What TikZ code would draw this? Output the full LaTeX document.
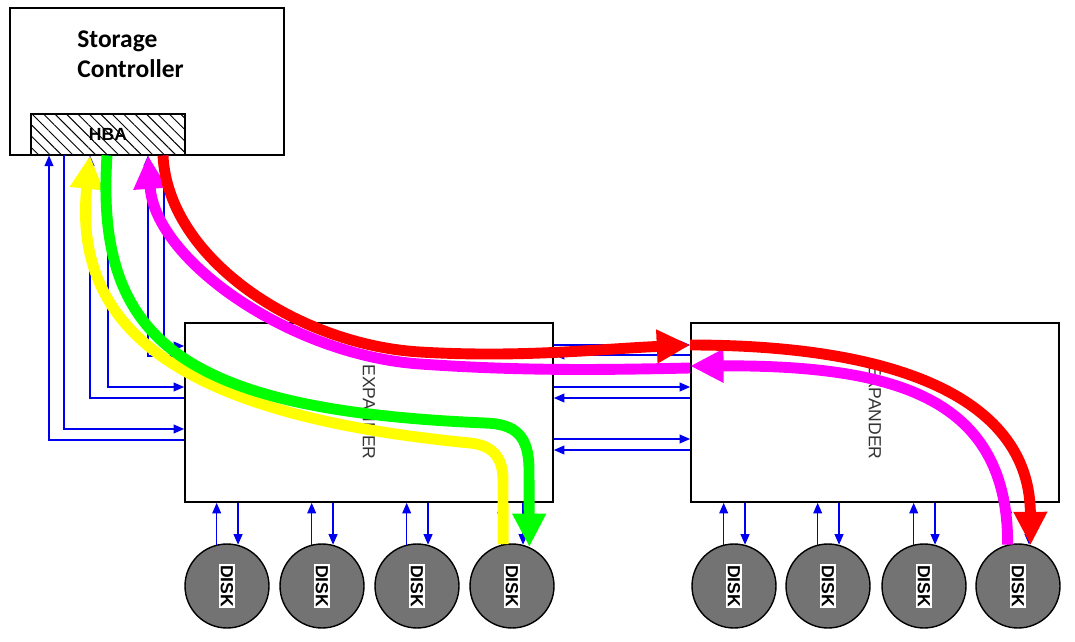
\documentclass[tikz,border=0pt]{standalone}
\usepackage{fontspec}
\setmainfont{Liberation Sans}
\newfontfamily\calibri{Carlito}
\usetikzlibrary{arrows.meta,patterns.meta}
\definecolor{pathyellow}{RGB}{255,255,0}
\definecolor{pathgreen}{RGB}{0,255,0}
\definecolor{pathred}{RGB}{255,0,0}
\definecolor{pathmagenta}{RGB}{255,0,255}
\definecolor{wireblue}{RGB}{0,0,240}

\begin{document}
\begin{tikzpicture}[x=0.02cm,y=-0.02cm,
    bigtri/.tip={Triangle[length=19pt,width=18pt]},
    smalltri/.tip={Triangle[length=6pt,width=5pt]},
    box/.style={draw=black, line width=1pt, fill=white, inner sep=0pt},
    disk/.style={circle, draw=black, line width=0.8pt, fill=black!55, minimum size=1.68cm, inner sep=0pt,
      label={[rotate=-90, fill=white, inner sep=0.8pt, font=\bfseries\fontsize{10}{12}\selectfont]center:DISK}},
    wire/.style={wireblue, line width=0.8pt},
    route/.style={line width=6.2pt},
  ]
    \useasboundingbox (0,0) rectangle (1075,642);
    \node[box, minimum width=5.48cm, minimum height=2.94cm] (ctrl) at (147,81.5) {};
    \node[anchor=base west, align=left, inner sep=0pt, font=\calibri\bfseries\fontsize{14.5}{17.2}\selectfont] (ctrlname) at (77,78) {Storage\\Controller};
    \node[draw=black, line width=1pt, inner sep=0pt, minimum width=3.08cm, minimum height=0.82cm,
      pattern={Lines[angle=-45,distance=4.6pt,line width=0.55pt]}, font=\bfseries\fontsize{10}{12}\selectfont] (hba) at (108,134.5) {HBA};
    \node[box, minimum width=7.36cm, minimum height=3.58cm] (exp1) at (369,412.5) {};
    \node[rotate=-90, text=black!80, font=\fontsize{10}{12}\selectfont] (exp1name) at (369,412) {EXPANDER};
    \node[box, minimum width=7.36cm, minimum height=3.58cm] (exp2) at (875,412.5) {};
    \node[rotate=-90, text=black!80, font=\fontsize{10}{12}\selectfont] (exp2name) at (875,412) {EXPANDER};
    \node[disk] (d1) at (227,586) {};
    \node[disk] (d2) at (322,586) {};
    \node[disk] (d3) at (417,586) {};
    \node[disk] (d4) at (512,586) {};
    \node[disk] (d5) at (734,586) {};
    \node[disk] (d6) at (828,586) {};
    \node[disk] (d7) at (924,586) {};
    \node[disk] (d8) at (1018,586) {};
    % HBA to first expander
    \draw[wire, -smalltri] (exp1.west |- 0,440) -| (hba.south -| 49,0);
    \draw[wire, -smalltri] (hba.south -| 64,0) |- (exp1.west |- 0,429);
    \draw[wire, -smalltri] (exp1.west |- 0,398) -| (hba.south -| 90,0);
    \draw[wire, -smalltri] (hba.south -| 108,0) |- (exp1.west |- 0,387);
    \draw[wire, -smalltri] (exp1.west |- 0,356) -| (hba.south -| 148,0);
    \draw[wire, -smalltri] (hba.south -| 164,0) |- (exp1.west |- 0,346);
    % expander to expander
    \draw[wire, -smalltri] (exp1.east |- 0,345) -- (exp2.west |- 0,345);
    \draw[wire, -smalltri] (exp2.west |- 0,355) -- (exp1.east |- 0,355);
    \draw[wire, -smalltri] (exp1.east |- 0,387) -- (exp2.west |- 0,387);
    \draw[wire, -smalltri] (exp2.west |- 0,398) -- (exp1.east |- 0,398);
    \draw[wire, -smalltri] (exp1.east |- 0,439) -- (exp2.west |- 0,439);
    \draw[wire, -smalltri] (exp2.west |- 0,450) -- (exp1.east |- 0,450);
    % expanders to disks
    \draw[wire, -smalltri] (d1.104) -- (d1.104 |- exp1.south);
    \draw[wire, -smalltri] (d1.75 |- exp1.south) -- (d1.75);
    \draw[wire, -smalltri] (d2.104) -- (d2.104 |- exp1.south);
    \draw[wire, -smalltri] (d2.75 |- exp1.south) -- (d2.75);
    \draw[wire, -smalltri] (d3.104) -- (d3.104 |- exp1.south);
    \draw[wire, -smalltri] (d3.75 |- exp1.south) -- (d3.75);
    \draw[wire, -smalltri] (d4.104) -- (d4.104 |- exp1.south);
    \draw[wire, -smalltri] (d4.75 |- exp1.south) -- (d4.75);
    \draw[wire, -smalltri] (d5.104) -- (d5.104 |- exp2.south);
    \draw[wire, -smalltri] (d5.75 |- exp2.south) -- (d5.75);
    \draw[wire, -smalltri] (d6.104) -- (d6.104 |- exp2.south);
    \draw[wire, -smalltri] (d6.75 |- exp2.south) -- (d6.75);
    \draw[wire, -smalltri] (d7.104) -- (d7.104 |- exp2.south);
    \draw[wire, -smalltri] (d7.75 |- exp2.south) -- (d7.75);
    \draw[wire, -smalltri] (d8.104) -- (d8.104 |- exp2.south);
    \draw[wire, -smalltri] (d8.75 |- exp2.south) -- (d8.75);
    % traced paths
    \draw[route, pathyellow, bigtri-] (hba.south -| 90,0) .. controls (72,330) and (180,415) .. (470,443)
      .. controls (490,445) and (503,455) .. (503,480) -- (d4.102);
    \draw[route, pathgreen, -bigtri] (hba.south -| 107,0) .. controls (95,340) and (180,410) .. (485,423)
      .. controls (515,424) and (529,435) .. (529,470) -- (d4.66);
    \draw[route, pathmagenta, -bigtri] (d8.104) .. controls (1008,400) and (900,365) .. (exp2.west |- 0,366);
    \draw[route, pathmagenta, bigtri-] (hba.south -| 148,0) .. controls (155,260) and (290,355) .. (420,364)
      .. controls (520,371) and (600,370) .. (exp2.west |- 0,368);
    \draw[route, pathred, -bigtri] (hba.south -| 163,0) .. controls (168,260) and (300,345) .. (420,352)
      .. controls (520,358) and (600,349) .. (exp2.west |- 0,345);
    \draw[route, pathred, -bigtri] (exp2.west |- 0,345) .. controls (900,345) and (1030,400) .. (d8.73);
\end{tikzpicture}
\end{document}
